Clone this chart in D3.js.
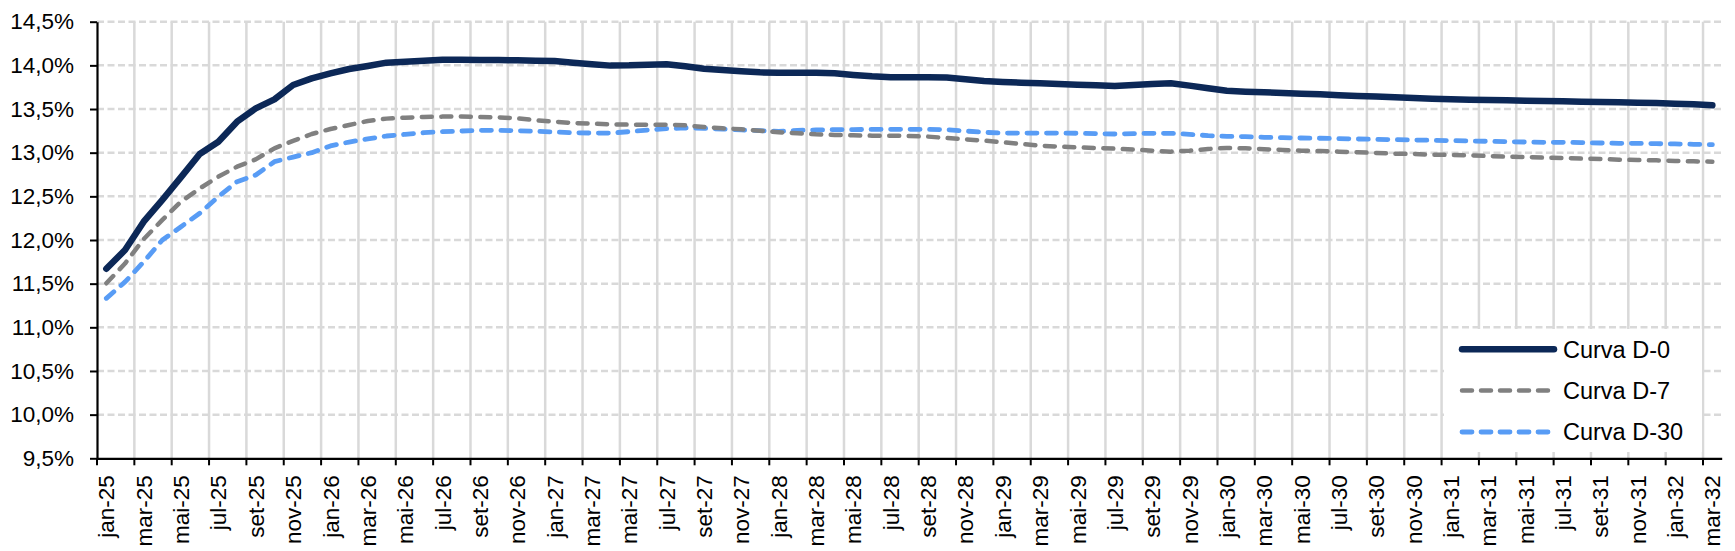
<!DOCTYPE html>
<html><head><meta charset="utf-8">
<script src="https://cdn.jsdelivr.net/npm/d3@7"></script>
<style>
body{margin:0;background:#fff}
svg{display:block}
text{font-family:"Liberation Sans",Arial,sans-serif;fill:#000}
</style>
</head><body>
<svg id="c" width="1735" height="551"></svg>
<script>
const categories = [
 "jan-25","fev-25","mar-25","abr-25","mai-25","jun-25","jul-25","ago-25","set-25","out-25","nov-25","dez-25",
 "jan-26","fev-26","mar-26","abr-26","mai-26","jun-26","jul-26","ago-26","set-26","out-26","nov-26","dez-26",
 "jan-27","fev-27","mar-27","abr-27","mai-27","jun-27","jul-27","ago-27","set-27","out-27","nov-27","dez-27",
 "jan-28","fev-28","mar-28","abr-28","mai-28","jun-28","jul-28","ago-28","set-28","out-28","nov-28","dez-28",
 "jan-29","fev-29","mar-29","abr-29","mai-29","jun-29","jul-29","ago-29","set-29","out-29","nov-29","dez-29",
 "jan-30","fev-30","mar-30","abr-30","mai-30","jun-30","jul-30","ago-30","set-30","out-30","nov-30","dez-30",
 "jan-31","fev-31","mar-31","abr-31","mai-31","jun-31","jul-31","ago-31","set-31","out-31","nov-31","dez-31",
 "jan-32","fev-32","mar-32"
];
const tickLabels = categories.filter((c, i) => i % 2 === 0);

const curvaD0 = [
 11.67,11.885,12.21,12.46,12.72,12.985,13.126,13.355,13.508,13.61,13.775,13.851,
 13.909,13.958,13.993,14.031,14.042,14.054,14.065,14.065,14.061,14.061,14.058,14.054,
 14.05,14.031,14.012,13.997,14.0,14.008,14.012,13.989,13.962,13.947,13.932,13.92,
 13.915,13.916,13.916,13.909,13.89,13.874,13.863,13.863,13.863,13.86,13.84,13.821,
 13.81,13.802,13.794,13.787,13.779,13.771,13.764,13.775,13.787,13.794,13.768,13.737,
 13.71,13.699,13.691,13.684,13.676,13.668,13.657,13.649,13.642,13.634,13.626,13.619,
 13.611,13.607,13.603,13.6,13.596,13.592,13.588,13.584,13.58,13.577,13.573,13.569,
 13.561,13.554,13.542
];
const curvaD7 = [
 11.504,11.73,12.01,12.23,12.44,12.59,12.725,12.84,12.924,13.05,13.135,13.214,
 13.271,13.317,13.363,13.39,13.401,13.409,13.413,13.413,13.409,13.405,13.394,13.371,
 13.355,13.34,13.332,13.325,13.321,13.321,13.321,13.313,13.294,13.279,13.268,13.252,
 13.235,13.222,13.21,13.203,13.199,13.195,13.195,13.191,13.184,13.168,13.153,13.138,
 13.119,13.1,13.08,13.069,13.061,13.054,13.046,13.035,13.023,13.012,13.023,13.042,
 13.054,13.05,13.04,13.031,13.023,13.02,13.012,13.004,12.997,12.989,12.985,12.977,
 12.974,12.97,12.962,12.954,12.951,12.943,12.939,12.932,12.928,12.92,12.916,12.912,
 12.905,12.901,12.897
];
const curvaD30 = [
 11.332,11.52,11.75,12.0,12.152,12.306,12.496,12.668,12.744,12.897,12.95,13.0,
 13.077,13.122,13.157,13.191,13.21,13.229,13.241,13.248,13.256,13.256,13.252,13.245,
 13.237,13.229,13.225,13.225,13.241,13.26,13.275,13.283,13.279,13.271,13.26,13.252,
 13.245,13.256,13.26,13.264,13.264,13.267,13.267,13.267,13.267,13.264,13.248,13.233,
 13.225,13.225,13.225,13.225,13.222,13.218,13.214,13.218,13.222,13.222,13.21,13.195,
 13.187,13.184,13.176,13.172,13.168,13.165,13.161,13.157,13.153,13.149,13.145,13.142,
 13.138,13.134,13.13,13.126,13.122,13.119,13.119,13.115,13.111,13.107,13.107,13.103,
 13.1,13.096,13.092
];
const yTicks = [9.5,10.0,10.5,11.0,11.5,12.0,12.5,13.0,13.5,14.0,14.5];
const seriesNames = ["Curva D-0","Curva D-7","Curva D-30"];

const svg = d3.select("#c");
const L = 97, R = 1721.7, T = 21.7, B = 458.3;
const x = d3.scaleBand().domain(categories).range([L, R]);
const y = d3.scaleLinear().domain([9.5, 14.5]).range([B, T]);
const bw = x.bandwidth();
const cx = c => x(c) + bw / 2;

// gridlines
const grid = svg.append("g");
grid.selectAll("line.h").data(yTicks.filter(v => v > 9.5)).join("line")
  .attr("x1", L).attr("x2", R).attr("y1", d => y(d)).attr("y2", d => y(d))
  .attr("stroke", "#d9d9d9").attr("stroke-width", 2.5).attr("stroke-dasharray", "7,3.5");
grid.selectAll("line.v").data(tickLabels.slice(1)).join("line")
  .attr("x1", d => x(d)).attr("x2", d => x(d)).attr("y1", T).attr("y2", B)
  .attr("stroke", "#d9d9d9").attr("stroke-width", 2.5);

// legend background
svg.append("rect").attr("x", 1444).attr("y", 329).attr("width", 258).attr("height", 123).attr("fill", "#fff");

// axes
const fmt = d => d.toFixed(1).replace(".", ",") + "%";
const yAxis = svg.append("g").attr("transform", `translate(${L},0)`)
  .call(d3.axisLeft(y).tickValues(yTicks).tickSize(7).tickSizeOuter(0).tickPadding(16).tickFormat(fmt));
yAxis.select(".domain").attr("stroke", "#000").attr("stroke-width", 2.2);
yAxis.selectAll(".tick line").attr("stroke", "#000").attr("stroke-width", 2);
yAxis.selectAll(".tick text").attr("font-size", 22.5).attr("font-family", "Liberation Sans, Arial, sans-serif").attr("fill", "#000");

const xAxis = svg.append("g").attr("transform", `translate(0,${B})`)
  .call(d3.axisBottom(x).tickValues(tickLabels).tickSize(7).tickSizeOuter(0));
xAxis.select(".domain").attr("stroke", "#000").attr("stroke-width", 2.2);
xAxis.selectAll(".tick line").attr("x1", -bw / 2).attr("x2", -bw / 2).attr("stroke", "#000").attr("stroke-width", 2);
xAxis.selectAll(".tick text")
  .attr("transform", "rotate(-90)").attr("x", -17).attr("y", 0).attr("dy", "0.36em")
  .attr("text-anchor", "end").attr("font-size", 22.5)
  .attr("font-family", "Liberation Sans, Arial, sans-serif").attr("fill", "#000");

// series
const series = [
  {name: seriesNames[0], values: curvaD0, color: "#0c2857", width: 6.5, dash: null},
  {name: seriesNames[1], values: curvaD7, color: "#808080", width: 4.5, dash: "10,9.5"},
  {name: seriesNames[2], values: curvaD30, color: "#589cf5", width: 4.8, dash: "10,9.5"}
];
const line = d3.line().x((d, i) => cx(categories[i])).y(d => y(d));
[series[2], series[1], series[0]].forEach(s => {
  svg.append("path").datum(s.values).attr("d", line)
    .attr("fill", "none").attr("stroke", s.color).attr("stroke-width", s.width)
    .attr("stroke-linejoin", "round").attr("stroke-linecap", "round")
    .attr("stroke-dasharray", s.dash);
});

// legend
const lg = svg.append("g");
const ly = [349.3, 390.5, 432];
series.forEach((s, i) => {
  lg.append("line").attr("x1", 1462).attr("x2", 1554).attr("y1", ly[i]).attr("y2", ly[i])
    .attr("stroke", s.color).attr("stroke-width", s.width).attr("stroke-linecap", "round")
    .attr("stroke-dasharray", s.dash ? "10,9" : null);
  lg.append("text").attr("x", 1563).attr("y", ly[i]).attr("dy", "0.36em")
    .attr("font-size", 23.5).text(s.name);
});
</script>
</body></html>
